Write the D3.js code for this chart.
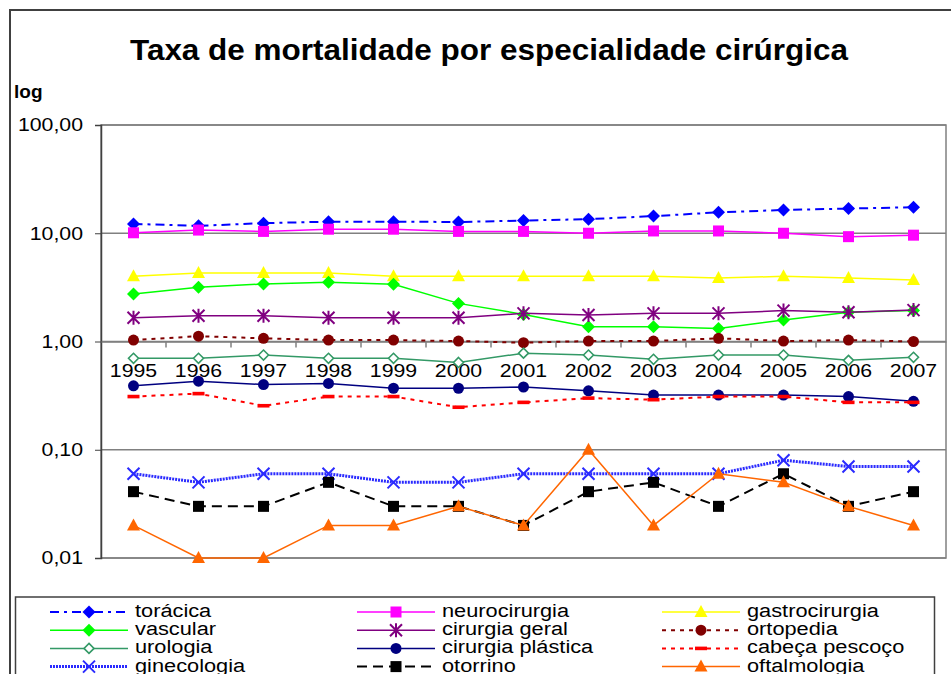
<!DOCTYPE html>
<html lang="pt">
<head>
<meta charset="UTF-8">
<title>Taxa de mortalidade por especialidade cirúrgica</title>
<script src="https://cdn.jsdelivr.net/npm/d3@7"></script>
<style>
    body { margin: 0; background: #fff; }
    text { font-family: Arial, "Liberation Sans", sans-serif; }
</style>
</head>
<body>
<div id="chart"></div>
<script>
// ---- data ----
const years = ['1995','1996','1997','1998','1999','2000','2001','2002','2003','2004','2005','2006','2007'];
const toracica      = [12.2, 11.7, 12.4, 12.8, 12.8, 12.7, 13.1, 13.5, 14.4, 15.6, 16.4, 16.9, 17.4];
const neurocirurgia = [10.1, 10.7, 10.4, 10.9, 10.9, 10.4, 10.4, 10.0, 10.5, 10.5, 10.0, 9.3, 9.6];
const gastro        = [4.0, 4.3, 4.3, 4.3, 4.0, 4.0, 4.0, 4.0, 4.0, 3.85, 4.0, 3.85, 3.7];
const vascular      = [2.75, 3.17, 3.4, 3.52, 3.38, 2.25, 1.78, 1.37, 1.37, 1.32, 1.58, 1.86, 1.93];
const cirGeral      = [1.66, 1.73, 1.73, 1.66, 1.66, 1.66, 1.82, 1.76, 1.82, 1.82, 1.93, 1.86, 1.95];
const ortopedia     = [1.03, 1.12, 1.07, 1.03, 1.03, 1.01, 0.975, 1.01, 1.01, 1.07, 1.01, 1.03, 1.0];
const urologia      = [0.70, 0.70, 0.75, 0.70, 0.70, 0.64, 0.78, 0.75, 0.685, 0.75, 0.75, 0.67, 0.715];
const cirPlastica   = [0.39, 0.43, 0.40, 0.41, 0.37, 0.37, 0.38, 0.35, 0.32, 0.32, 0.32, 0.31, 0.28];
const cabecaPescoco = [0.31, 0.33, 0.255, 0.31, 0.31, 0.247, 0.274, 0.30, 0.29, 0.31, 0.31, 0.274, 0.274];
const ginecologia   = [0.06, 0.05, 0.06, 0.06, 0.05, 0.05, 0.06, 0.06, 0.06, 0.06, 0.08, 0.07, 0.07];
const otorrino      = [0.041, 0.03, 0.03, 0.05, 0.03, 0.03, 0.02, 0.041, 0.05, 0.03, 0.06, 0.03, 0.041];
const oftalmologia  = [0.02, 0.01, 0.01, 0.02, 0.02, 0.03, 0.02, 0.1, 0.02, 0.06, 0.05, 0.03, 0.02];
const yTicks = [0.01, 0.1, 1, 10, 100];

const seriesNames = ['torácica','neurocirurgia','gastrocirurgia','vascular','cirurgia geral','ortopedia',
                     'urologia','cirurgia plástica','cabeça pescoço','ginecologia','otorrino','oftalmologia'];
const seriesValues = [toracica, neurocirurgia, gastro, vascular, cirGeral, ortopedia,
                      urologia, cirPlastica, cabecaPescoco, ginecologia, otorrino, oftalmologia];

// styles per series (same order)
const styles = [
    {color:'#0000ff', w:2,   dash:'9,5,3,5', marker:'diamond'},
    {color:'#ff00ff', w:1.5, dash:null,      marker:'square'},
    {color:'#ffff00', w:1.5, dash:null,      marker:'triangle'},
    {color:'#00ff00', w:1.5, dash:null,      marker:'diamond'},
    {color:'#800080', w:1.5, dash:null,      marker:'asterisk'},
    {color:'#800000', w:2,   dash:'4,5',     marker:'circle'},
    {color:'#339966', w:1.5, dash:null,      marker:'diamondOpen'},
    {color:'#000080', w:1.5, dash:null,      marker:'circle'},
    {color:'#ff0000', w:2,   dash:'4,5',     marker:'bar'},
    {color:'#2a2aff', w:3,   dash:'2,1',     marker:'x'},
    {color:'#000000', w:2,   dash:'10,6',    marker:'square'},
    {color:'#ff6600', w:1.5, dash:null,      marker:'triangle'}
];

const width = 951, height = 674;
const plot = {left: 101, right: 946, top: 125, bottom: 558};
const stretch = 1.15;   // the original text is a bit wider than plain Arial

const svg = d3.select('#chart').append('svg')
    .attr('width', width).attr('height', height);

svg.append('rect').attr('width', width).attr('height', height).attr('fill', '#fff');

// outer chart frame
svg.append('rect')
    .attr('x', 10).attr('y', 10).attr('width', 1000).attr('height', 1000)
    .attr('fill', 'none').attr('stroke', '#404040').attr('stroke-width', 2);

svg.append('text')
    .attr('x', 489).attr('y', 60)
    .attr('text-anchor', 'middle')
    .attr('textLength', 718).attr('lengthAdjust', 'spacingAndGlyphs')
    .style('font-size', '30px').style('font-weight', 'bold')
    .text('Taxa de mortalidade por especialidade cirúrgica');

svg.append('text')
    .attr('x', 14).attr('y', 98)
    .style('font-size', '19px').style('font-weight', 'bold')
    .text('log');

const xScale = d3.scaleBand().domain(years).range([plot.left, plot.right]);
const yScale = d3.scaleLog().domain([0.01, 100]).range([plot.bottom, plot.top]);
const xc = d => xScale(d) + xScale.bandwidth() / 2;

// plot area frame + gridlines
svg.append('rect')
    .attr('x', plot.left).attr('y', plot.top)
    .attr('width', plot.right - plot.left).attr('height', plot.bottom - plot.top)
    .attr('fill', '#fff').attr('stroke', '#808080').attr('stroke-width', 1.5);

svg.append('g').selectAll('line').data(yTicks).enter().append('line')
    .attr('x1', plot.left).attr('x2', plot.right)
    .attr('y1', d => yScale(d)).attr('y2', d => yScale(d))
    .attr('stroke', '#808080').attr('stroke-width', 1.5);

// y axis
const fmt = v => v.toFixed(2).replace('.', ',');
const yAxis = svg.append('g')
    .attr('transform', 'translate(' + plot.left + ',0)')
    .call(d3.axisLeft(yScale).tickValues(yTicks).tickFormat(fmt).tickSize(6).tickPadding(12));
yAxis.select('.domain').attr('stroke', '#404040').attr('stroke-width', 1.5);
yAxis.selectAll('.tick line').attr('stroke', '#404040');
yAxis.selectAll('text')
    .attr('x', 0)
    .attr('transform', 'translate(-18,0) scale(' + stretch + ',1)')
    .attr('fill', '#000')
    .style('font-size', '18.5px').style('font-family', 'Arial, "Liberation Sans", sans-serif');

// x axis crossing at 1
const xAxisY = yScale(1);
const xAxis = svg.append('g')
    .attr('transform', 'translate(0,' + xAxisY + ')')
    .call(d3.axisBottom(xScale).tickSize(0).tickPadding(0));
xAxis.select('.domain').attr('stroke', '#808080').attr('stroke-width', 1.5);
xAxis.selectAll('text')
    .attr('y', 0).attr('dy', null)
    .attr('transform', 'translate(0,35) scale(' + stretch + ',1)')
    .attr('fill', '#000')
    .style('font-size', '18.5px').style('font-family', 'Arial, "Liberation Sans", sans-serif');
svg.append('g').selectAll('line').data(years.slice(1)).enter().append('line')
    .attr('x1', d => xScale(d)).attr('x2', d => xScale(d))
    .attr('y1', xAxisY).attr('y2', xAxisY + 6)
    .attr('stroke', '#808080').attr('stroke-width', 1.5);

// markers
function drawMarker(g, type, color, x, y) {
    if (type === 'diamond') {
        g.append('path').attr('d', 'M0,-6.5L6.5,0L0,6.5L-6.5,0Z')
            .attr('transform', `translate(${x},${y})`).attr('fill', color);
    } else if (type === 'diamondOpen') {
        g.append('path').attr('d', 'M0,-5L5,0L0,5L-5,0Z')
            .attr('transform', `translate(${x},${y})`)
            .attr('fill', '#fff').attr('stroke', color).attr('stroke-width', 1.6);
    } else if (type === 'square') {
        g.append('rect').attr('x', x - 5.5).attr('y', y - 5.5).attr('width', 11).attr('height', 11)
            .attr('fill', color);
    } else if (type === 'triangle') {
        g.append('path').attr('d', 'M0,-7L6.5,5L-6.5,5Z')
            .attr('transform', `translate(${x},${y})`).attr('fill', color);
    } else if (type === 'circle') {
        g.append('circle').attr('cx', x).attr('cy', y).attr('r', 5.5).attr('fill', color);
    } else if (type === 'bar') {
        g.append('rect').attr('x', x - 6).attr('y', y - 1.8).attr('width', 12).attr('height', 3.6)
            .attr('fill', color);
    } else if (type === 'x') {
        g.append('path').attr('d', 'M-6,-6L6,6M-6,6L6,-6')
            .attr('transform', `translate(${x},${y})`)
            .attr('stroke', color).attr('stroke-width', 2).attr('fill', 'none');
    } else if (type === 'asterisk') {
        g.append('path').attr('d', 'M-6,-6L6,6M-6,6L6,-6M0,-7L0,7')
            .attr('transform', `translate(${x},${y})`)
            .attr('stroke', color).attr('stroke-width', 2).attr('fill', 'none');
    }
}

const line = d3.line()
    .x((d, i) => xc(years[i]))
    .y(d => yScale(d));

seriesValues.forEach((vals, k) => {
    const st = styles[k];
    const g = svg.append('g').attr('class', 'series');
    g.append('path')
        .datum(vals)
        .attr('d', line)
        .attr('fill', 'none')
        .attr('stroke', st.color)
        .attr('stroke-width', st.w)
        .attr('stroke-dasharray', st.dash);
    vals.forEach((v, i) => drawMarker(g, st.marker, st.color, xc(years[i]), yScale(v)));
});

// legend
svg.append('rect')
    .attr('x', 15.5).attr('y', 597).attr('width', 919).attr('height', 200)
    .attr('fill', '#fff').attr('stroke', '#404040').attr('stroke-width', 1.5);

const legCols = [50, 357, 662];
const legRowY = 612;
const legStep = 18.2;
seriesNames.forEach((name, k) => {
    const st = styles[k];
    const col = k % 3, row = Math.floor(k / 3);
    const x0 = legCols[col], y0 = legRowY + row * legStep;
    const g = svg.append('g');
    g.append('line')
        .attr('x1', x0).attr('x2', x0 + 78).attr('y1', y0).attr('y2', y0)
        .attr('stroke', st.color).attr('stroke-width', st.w)
        .attr('stroke-dasharray', st.dash);
    drawMarker(g, st.marker, st.color, x0 + 39, y0);
    g.append('text')
        .attr('transform', 'translate(' + (x0 + 85) + ',' + (y0 + 5) + ') scale(1.21,1)')
        .style('font-size', '18px')
        .text(name);
});
</script>
</body>
</html>
